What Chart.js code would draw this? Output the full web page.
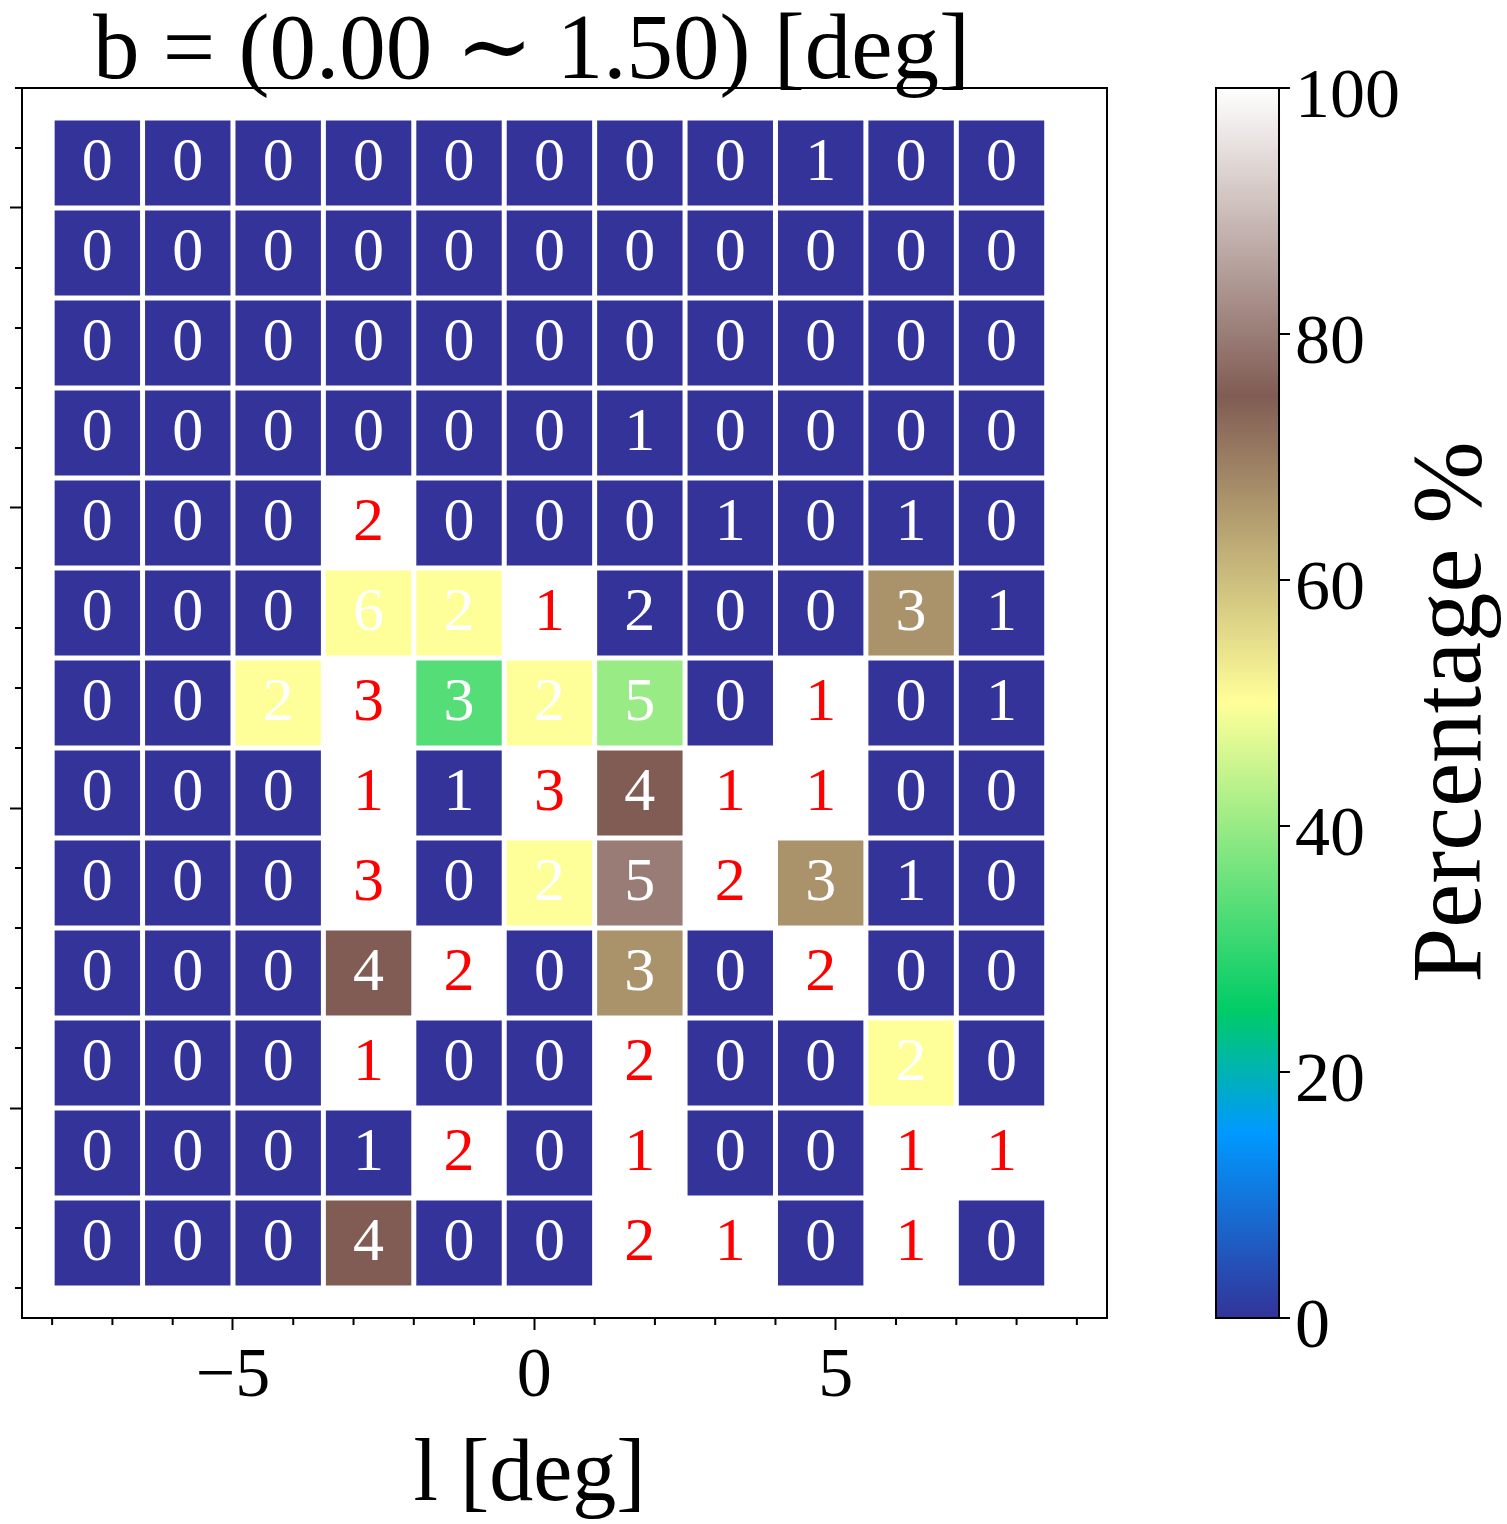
<!DOCTYPE html>
<html>
<head>
<meta charset="utf-8">
<script src="https://cdn.jsdelivr.net/npm/chart.js@4.4.0/dist/chart.umd.min.js"></script>
<style>
  html, body { margin: 0; padding: 0; background: #fff; }
  #wrap { position: relative; width: 1507px; height: 1524px; }
</style>
</head>
<body>
<div id="wrap"><canvas id="myChart"></canvas></div>
<script>
// bin centres in deg, one column per l bin, one row per y bin (top row first)
const lCenters = [-7.25, -5.75, -4.25, -2.75, -1.25, 0.25, 1.75, 3.25, 4.75, 6.25, 7.75];
const yCenters = [10.75, 9.25, 7.75, 6.25, 4.75, 3.25, 1.75, 0.25, -1.25, -2.75, -4.25, -5.75, -7.25];
const binSize = 1.5;

// number written in each cell
const counts = [
    [0, 0, 0, 0, 0, 0, 0, 0, 1, 0, 0],
    [0, 0, 0, 0, 0, 0, 0, 0, 0, 0, 0],
    [0, 0, 0, 0, 0, 0, 0, 0, 0, 0, 0],
    [0, 0, 0, 0, 0, 0, 1, 0, 0, 0, 0],
    [0, 0, 0, 2, 0, 0, 0, 1, 0, 1, 0],
    [0, 0, 0, 6, 2, 1, 2, 0, 0, 3, 1],
    [0, 0, 2, 3, 3, 2, 5, 0, 1, 0, 1],
    [0, 0, 0, 1, 1, 3, 4, 1, 1, 0, 0],
    [0, 0, 0, 3, 0, 2, 5, 2, 3, 1, 0],
    [0, 0, 0, 4, 2, 0, 3, 0, 2, 0, 0],
    [0, 0, 0, 1, 0, 0, 2, 0, 0, 2, 0],
    [0, 0, 0, 1, 2, 0, 1, 0, 0, 1, 1],
    [0, 0, 0, 4, 0, 0, 2, 1, 0, 1, 0]
];

// percentage that sets the cell colour
const percent = [
    [0, 0, 0, 0, 0, 0, 0, 0, 0, 0, 0],
    [0, 0, 0, 0, 0, 0, 0, 0, 0, 0, 0],
    [0, 0, 0, 0, 0, 0, 0, 0, 0, 0, 0],
    [0, 0, 0, 0, 0, 0, 0, 0, 0, 0, 0],
    [0, 0, 0, 100, 0, 0, 0, 0, 0, 0, 0],
    [0, 0, 0, 50, 50, 100, 0, 0, 0, 66.7, 0],
    [0, 0, 50, 100, 33.3, 50, 40, 0, 100, 0, 0],
    [0, 0, 0, 100, 0, 100, 75, 100, 100, 0, 0],
    [0, 0, 0, 100, 0, 50, 80, 100, 66.7, 0, 0],
    [0, 0, 0, 75, 100, 0, 66.7, 0, 100, 0, 0],
    [0, 0, 0, 100, 0, 0, 100, 0, 0, 50, 0],
    [0, 0, 0, 0, 100, 0, 100, 0, 0, 100, 100],
    [0, 0, 0, 75, 0, 0, 100, 100, 0, 100, 0]
];

const lTicks = [-5, 0, 5];
const yTicks = [-5, 0, 5, 10];
const cbTicks = [0, 20, 40, 60, 80, 100];

const titleText = 'b = (0.00 \u223C 1.50) [deg]';
const xLabel = 'l [deg]';
const cbLabel = 'Percentage %';

const serif = "'Liberation Serif', 'DejaVu Serif', serif";

// matplotlib 'terrain' colormap
const terrainStops = [
    [0.00, [0.2, 0.2, 0.6]],
    [0.15, [0.0, 0.6, 1.0]],
    [0.25, [0.0, 0.8, 0.4]],
    [0.50, [1.0, 1.0, 0.6]],
    [0.75, [0.5, 0.36, 0.33]],
    [1.00, [1.0, 1.0, 1.0]]
];

function rgb(c) {
    return 'rgb(' + c.map(v => Math.round(v * 255)).join(',') + ')';
}

function terrain(t) {
    t = Math.max(0, Math.min(1, t));
    for (let i = 1; i < terrainStops.length; i++) {
        const [t1, c1] = terrainStops[i];
        const [t0, c0] = terrainStops[i - 1];
        if (t <= t1) {
            const f = (t - t0) / (t1 - t0);
            return rgb(c0.map((v, k) => v + (c1[k] - v) * f));
        }
    }
    return rgb(terrainStops[terrainStops.length - 1][1]);
}

const cells = [];
yCenters.forEach((yc, i) => {
    lCenters.forEach((lc, j) => {
        cells.push({x: lc, y: yc, count: counts[i][j], pct: percent[i][j]});
    });
});

// draws every cell from the dataset points through the x / y scales
const heatmapPlugin = {
    id: 'heatmap',
    beforeDatasetsDraw(chart) {
        const {ctx} = chart;
        const x = chart.scales.x, y = chart.scales.y;
        const gap = 2.5;
        ctx.save();
        chart.data.datasets[0].data.forEach(p => {
            const x0 = x.getPixelForValue(p.x - binSize / 2);
            const x1 = x.getPixelForValue(p.x + binSize / 2);
            const y0 = y.getPixelForValue(p.y + binSize / 2);
            const y1 = y.getPixelForValue(p.y - binSize / 2);
            ctx.fillStyle = terrain(p.pct / 100);
            ctx.fillRect(x0 + gap, y0 + gap, x1 - x0 - 2 * gap, y1 - y0 - 2 * gap);

            ctx.fillStyle = p.pct >= 100 ? '#ff0000' : '#ffffff';
            ctx.font = '62px ' + serif;
            ctx.textAlign = 'center';
            ctx.textBaseline = 'alphabetic';
            ctx.fillText(String(p.count), (x0 + x1) / 2, (y0 + y1) / 2 + 17);
        });
        ctx.restore();
    }
};

// frame, minor ticks, titles and the colour bar
const framePlugin = {
    id: 'frame',
    afterDraw(chart) {
        const {ctx, chartArea: a} = chart;
        const x = chart.scales.x, y = chart.scales.y, pct = chart.scales.pct;
        ctx.save();
        ctx.strokeStyle = '#000';
        ctx.lineWidth = 2;
        ctx.strokeRect(a.left, a.top, a.right - a.left, a.bottom - a.top);

        // minor ticks every 1 deg
        ctx.beginPath();
        for (let v = Math.ceil(x.min); v <= x.max; v++) {
            if (lTicks.includes(v)) continue;
            const px = x.getPixelForValue(v);
            ctx.moveTo(px, a.bottom);
            ctx.lineTo(px, a.bottom + 7);
        }
        for (let v = Math.ceil(y.min); v <= y.max; v++) {
            if (yTicks.includes(v)) continue;
            const py = y.getPixelForValue(v);
            ctx.moveTo(a.left, py);
            ctx.lineTo(a.left - 7, py);
        }
        ctx.stroke();

        // title and x label
        const midX = (a.left + a.right) / 2;
        ctx.fillStyle = '#000';
        ctx.textAlign = 'center';
        ctx.textBaseline = 'alphabetic';
        ctx.font = '93px ' + serif;
        ctx.fillText(titleText, midX - 33, a.top - 10);
        ctx.font = '88px ' + serif;
        ctx.fillText(xLabel, midX - 35, a.bottom + 182);

        // colour bar
        const cbLeft = a.right + 109, cbRight = cbLeft + 63;
        const top = pct.getPixelForValue(pct.max), bottom = pct.getPixelForValue(pct.min);
        const grad = ctx.createLinearGradient(0, bottom, 0, top);
        terrainStops.forEach(([t, c]) => grad.addColorStop(t, rgb(c)));
        ctx.fillStyle = grad;
        ctx.fillRect(cbLeft, top, cbRight - cbLeft, bottom - top);
        ctx.strokeRect(cbLeft, top, cbRight - cbLeft, bottom - top);

        ctx.fillStyle = '#000';
        ctx.font = '70px ' + serif;
        ctx.textAlign = 'left';
        ctx.beginPath();
        cbTicks.forEach(v => {
            const py = pct.getPixelForValue(v);
            ctx.moveTo(cbRight, py);
            ctx.lineTo(cbRight + 11, py);
            ctx.fillText(String(v), cbRight + 16, py + 29);
        });
        ctx.stroke();

        ctx.translate(cbRight + 201, (top + bottom) / 2 + 9);
        ctx.rotate(-Math.PI / 2);
        ctx.font = '99px ' + serif;
        ctx.textAlign = 'center';
        ctx.fillText(cbLabel, 0, 0);
        ctx.restore();
    }
};

const ctx = document.getElementById('myChart');

new Chart(ctx, {
    type: 'scatter',
    data: {
        datasets: [{
                data: cells,
                pointRadius: 0,
                pointHoverRadius: 0
            }]
    },
    options: {
        responsive: true,
        maintainAspectRatio: false,
        animation: false,
        layout: {
            padding: {left: 0, top: 88, right: 400, bottom: 0}
        },
        plugins: {
            legend: {display: false},
            tooltip: {enabled: false},
            title: {display: false}
        },
        scales: {
            x: {
                type: 'linear',
                min: -8.5,
                max: 9.5,
                afterBuildTicks: s => { s.ticks = lTicks.map(v => ({value: v})); },
                afterFit: s => { s.height = 206; },
                ticks: {
                    color: '#000',
                    font: {family: serif, size: 70},
                    padding: 6,
                    maxRotation: 0,
                    callback: v => v < 0 ? '\u2212' + Math.abs(v) : String(v)
                },
                grid: {display: true, drawOnChartArea: false, drawTicks: true, tickLength: 12, tickWidth: 2, tickColor: '#000'},
                border: {display: true, color: '#000', width: 2}
            },
            y: {
                type: 'linear',
                min: -8.5,
                max: 12,
                afterBuildTicks: s => { s.ticks = yTicks.map(v => ({value: v})); },
                afterFit: s => { s.width = 22; },
                ticks: {display: false},
                grid: {display: true, drawOnChartArea: false, drawTicks: true, tickLength: 12, tickWidth: 2, tickColor: '#000'},
                border: {display: true, color: '#000', width: 2}
            },
            pct: {
                type: 'linear',
                display: false,
                position: 'right',
                min: 0,
                max: 100
            }
        }
    },
    plugins: [heatmapPlugin, framePlugin]
});
</script>
</body>
</html>
